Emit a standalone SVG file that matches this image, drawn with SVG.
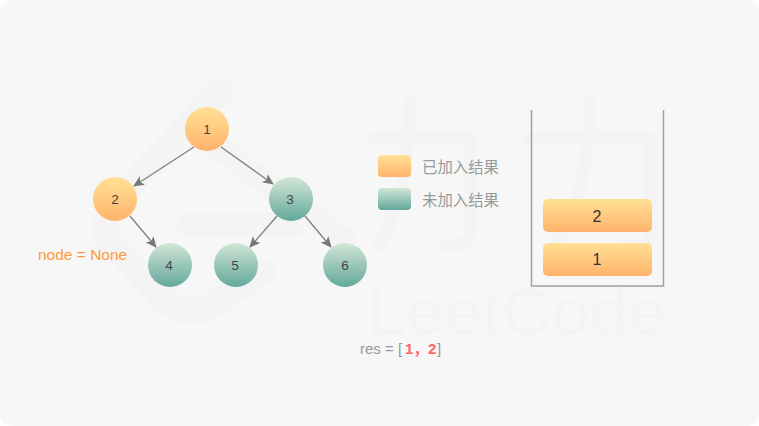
<svg xmlns="http://www.w3.org/2000/svg" width="759" height="426" viewBox="0 0 759 426">
<style>
text{font-family:"Liberation Sans","Noto Sans CJK SC",sans-serif}
.n{font-size:13.500px;fill:#444;text-anchor:middle}
.e{fill:none;stroke:#808080;stroke-width:1.300;marker-end:url(#a)}
.w{fill:none;stroke:#f4f4f4;stroke-linecap:round;stroke-linejoin:round}
.l{font-size:15.400px;fill:#999}
.o{fill:url(#og)}
.g{fill:url(#gg)}
</style>
<defs>
<linearGradient id="og" x1="0" y1="0" x2="0" y2="1"><stop offset="0" stop-color="#ffe195"/><stop offset="1" stop-color="#ffb36b"/></linearGradient>
<linearGradient id="gg" x1="0" y1="0" x2="0" y2="1"><stop offset="0" stop-color="#d3e6d6"/><stop offset="1" stop-color="#62a89c"/></linearGradient>
<marker id="a" markerUnits="userSpaceOnUse" markerWidth="12" markerHeight="12" refX="10" refY="5" orient="auto"><path d="M0 0L11 5L0 10L2.500 5Z" fill="#777"/></marker>
</defs>
<rect width="759" height="426" fill="#fff"/>
<rect width="759" height="426" rx="12" fill="#f7f7f7"/>
<g id="watermark">
<path class="w" stroke-width="26" d="M220 92L112 205Q98 225 112 245L165 300Q190 322 220 300L262 272"/>
<path class="w" stroke-width="26" d="M190 225H292"/>
<path class="w" stroke-width="24" d="M200 135L345 240"/>
<path class="w" stroke-width="13" d="M373 138H470V235Q470 246 445 246M410 100Q410 190 378 246"/>
<path class="w" stroke-width="13" d="M528 138H650V235Q650 246 625 246M590 100Q590 190 555 246"/>
<text x="368" y="334" font-size="64" fill="#f4f4f4" textLength="298" lengthAdjust="spacingAndGlyphs">LeetCode</text>
</g>
<g id="connectors">
<path class="e" d="M194 147L134 186"/>
<path class="e" d="M221 147L273 184"/>
<path class="e" d="M130 216L156 247"/>
<path class="e" d="M277 216L250 247"/>
<path class="e" d="M305 216L331 247"/>
</g>
<g id="node-1"><circle class="o" cx="207" cy="129" r="22"/><text class="n" x="207" y="134">1</text></g>
<g id="node-2"><circle class="o" cx="115" cy="199" r="22"/><text class="n" x="115" y="204">2</text></g>
<g id="node-3"><circle class="g" cx="291" cy="199" r="22"/><text class="n" x="290" y="204">3</text></g>
<g id="node-4"><circle class="g" cx="170" cy="265" r="22"/><text class="n" x="169" y="270">4</text></g>
<g id="node-5"><circle class="g" cx="236" cy="265" r="22"/><text class="n" x="235" y="270">5</text></g>
<g id="node-6"><circle class="g" cx="345" cy="265" r="22"/><text class="n" x="345" y="270">6</text></g>
<text id="node-label" x="38" y="260" font-size="15.500" fill="#ff9a3c">node = None</text>
<g id="legend-done"><rect class="o" x="378" y="155" width="33" height="22" rx="4"/><text class="l" x="422" y="173">已加入结果</text></g>
<g id="legend-todo"><rect class="g" x="378" y="188" width="33" height="22" rx="4"/><text class="l" x="422" y="206">未加入结果</text></g>
<g id="stack">
<path d="M531.500 110V286H663.500V110" fill="none" stroke="#a0a0a0" stroke-width="1.500"/>
<rect class="o" x="543" y="199" width="109" height="33" rx="5"/><text x="597" y="222" font-size="16" fill="#333" text-anchor="middle">2</text>
<rect class="o" x="543" y="243" width="109" height="33" rx="5"/><text x="597" y="265" font-size="16" fill="#333" text-anchor="middle">1</text>
</g>
<text id="res" x="360" y="354" font-size="15" fill="#999">res = [<tspan x="405" fill="#f66" font-weight="bold">1，</tspan><tspan x="428" fill="#f66" font-weight="bold">2</tspan><tspan x="437">]</tspan></text>
</svg>
